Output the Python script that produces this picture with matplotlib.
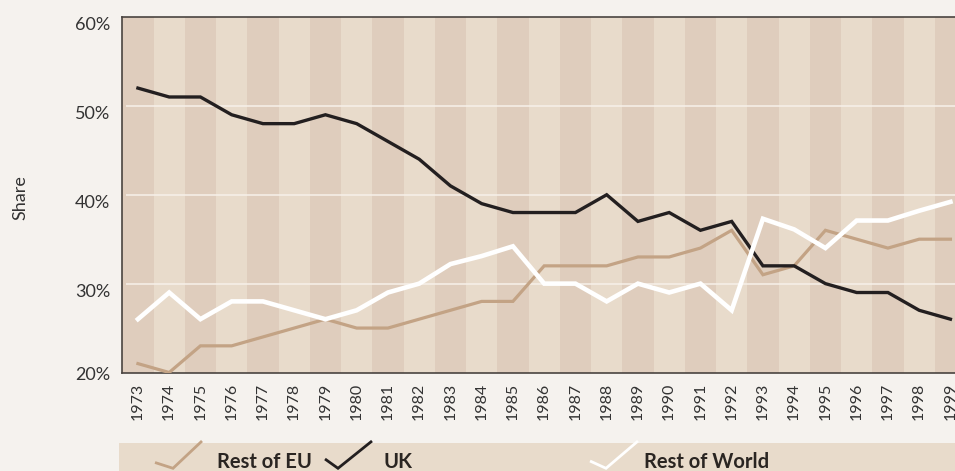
import numpy as np
import matplotlib
matplotlib.use("Agg")
import matplotlib.pyplot as plt
from matplotlib.lines import Line2D
from matplotlib.patches import Rectangle
import matplotlib.transforms as mtrans

plt.rcParams['font.family'] = ['Lato', 'DejaVu Sans']

years = np.arange(1973, 2000)
rest_of_eu = [21, 20, 23, 23, 24, 25, 26, 25, 25, 26, 27, 28, 28, 32, 32, 32, 33, 33,
              34, 36, 31, 32, 36, 35, 34, 35, 35]
uk = [52, 51, 51, 49, 48, 48, 49, 48, 46, 44, 41, 39, 38, 38, 38, 40, 37, 38,
      36, 37, 32, 32, 30, 29, 29, 27, 26]
rest_of_world = [26, 29, 26, 28, 28, 27, 26, 27, 29, 30, 32.2, 33.1, 34.2, 30, 30, 28, 30, 29,
                 30, 27, 37.3, 36.1, 34, 37.1, 37.1, 38.2, 39.2]
yticks = [20, 30, 40, 50, 60]
ytick_labels = ['20%', '30%', '40%', '50%', '60%']

BG = '#f5f2ee'
DARK_BAND = '#dfcdbd'
LIGHT_BAND = '#e8dbcb'
EU_COL = '#c3a385'
UK_COL = '#231f20'
ROW_COL = '#ffffff'
TXT = '#333333'

W, H = 955, 471
fig = plt.figure(figsize=(W / 100, H / 100), dpi=100, facecolor=BG)

# axes run a little past the right edge of the figure (cropped like the original)
left, top, bottom = 122.3, 17, 372.5
step = 31.25
ax = fig.add_axes([left / W, (H - bottom) / H, 27 * step / W, (bottom - top) / H])
ax.set_facecolor(LIGHT_BAND)

for i, yr in enumerate(years):
    ax.axvspan(yr - 0.5, yr + 0.5, color=DARK_BAND if i % 2 == 0 else LIGHT_BAND,
               lw=0, zorder=0)

for yv in [30, 40, 50]:
    ax.hlines(yv, 1972.63, 2000, color='#f7f1ea', lw=1.1, zorder=1)

ax.plot(years, rest_of_eu, color=EU_COL, lw=2.3, zorder=3, solid_joinstyle='miter')
ax.plot(years, uk, color=UK_COL, lw=2.4, zorder=4, solid_joinstyle='miter')
ax.plot(years, rest_of_world, color=ROW_COL, lw=3.3, zorder=5, solid_joinstyle='miter')

ax.set_xlim(1972.5, 1999.5)
ax.set_ylim(20, 60)

for s in ['left', 'top', 'bottom']:
    ax.spines[s].set_color('#4a4440')
    ax.spines[s].set_linewidth(1.2)
ax.spines['right'].set_visible(False)

ax.set_xticks(years)
ax.set_xticklabels([str(y) for y in years], rotation=90, fontsize=11.5, color=TXT)
ax.set_yticks(yticks)
ax.set_yticklabels(ytick_labels, fontsize=13, color=TXT, va='top')
ax.tick_params(axis='x', length=0, pad=7.5)
ax.tick_params(axis='y', length=0, pad=8.5)

# nudge the bottom y label up so it sits above the axis corner
lab0 = ax.get_yticklabels()[0]
lab0.set_transform(lab0.get_transform() + mtrans.ScaledTranslation(0, 6 / 100, fig.dpi_scale_trans))

fig.text(20 / W, (H - 198) / H, 'Share', rotation=90, ha='center', va='center',
         fontsize=13, color=TXT)

# legend band
fig.patches.append(Rectangle((119 / W, 0), 1 - 119 / W, 28.3 / H, transform=fig.transFigure,
                             facecolor=LIGHT_BAND, edgecolor='none', zorder=0))


def icon(xs, ys, col):
    fig.lines.append(Line2D([x / W for x in xs], [(H - y) / H for y in ys], color=col, lw=2.0,
                            transform=fig.transFigure, solid_joinstyle='miter',
                            solid_capstyle='butt'))


icon([155, 173, 202], [462.5, 468.3, 441], EU_COL)
icon([325, 338, 372], [459, 468.3, 441], UK_COL)
icon([590, 606, 638], [461, 468.3, 441], ROW_COL)

for x, txt in [(217, 'Rest of EU'), (383, 'UK'), (644, 'Rest of World')]:
    fig.text(x / W, (H - 467.5) / H, txt, ha='left', va='baseline', fontsize=14.5,
             fontweight='bold', color='#2a2522')

fig.savefig('out.png', dpi=100, facecolor=BG)
